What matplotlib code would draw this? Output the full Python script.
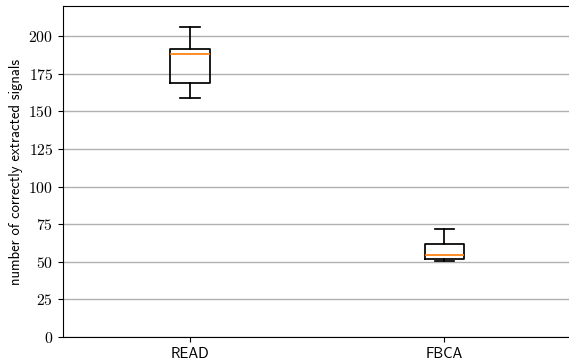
import matplotlib
matplotlib.use("Agg")
import matplotlib.pyplot as plt
from matplotlib.ticker import FuncFormatter

# box statistics
labels = ["READ", "FBCA"]
whislo = [158.6, 50.8]
q1 = [169.0, 51.6]
med = [187.8, 54.7]
q3 = [191.4, 61.8]
whishi = [206.0, 71.8]

plt.rcParams['mathtext.fontset'] = 'cm'

stats = []
for i in range(len(labels)):
    stats.append({'label': labels[i], 'whislo': whislo[i], 'q1': q1[i],
                  'med': med[i], 'q3': q3[i], 'whishi': whishi[i], 'fliers': []})

fig = plt.figure(figsize=(5.69, 3.64), dpi=100)
ax = fig.add_axes([63 / 569, 1 - 337 / 364, 508.6 / 569, 331 / 364])

lw = 1.25
ax.bxp(stats, widths=0.155,
       boxprops=dict(linewidth=lw, color='black'),
       whiskerprops=dict(linewidth=lw, color='black'),
       capprops=dict(linewidth=lw, color='black'),
       medianprops=dict(linewidth=lw, color='#ff7f0e'))

ax.set_xlim(0.5, 2.5)
ax.set_ylim(0, 220)
ax.set_yticks(range(0, 201, 25))
ax.yaxis.set_major_formatter(FuncFormatter(lambda v, p: r'$%d$' % v))
ax.yaxis.grid(True, color='#b0b0b0', linewidth=1.0)
ax.set_axisbelow(True)

ax.tick_params(axis='y', labelsize=11.3)
ax.tick_params(axis='x', labelsize=10.6)
for t in ax.get_xticklabels():
    t.set_fontfamily('cmss10')
ax.set_ylabel('number of correctly extracted signals', fontfamily='cmss10', fontsize=10.6)

fig.savefig('out.png', dpi=100)
